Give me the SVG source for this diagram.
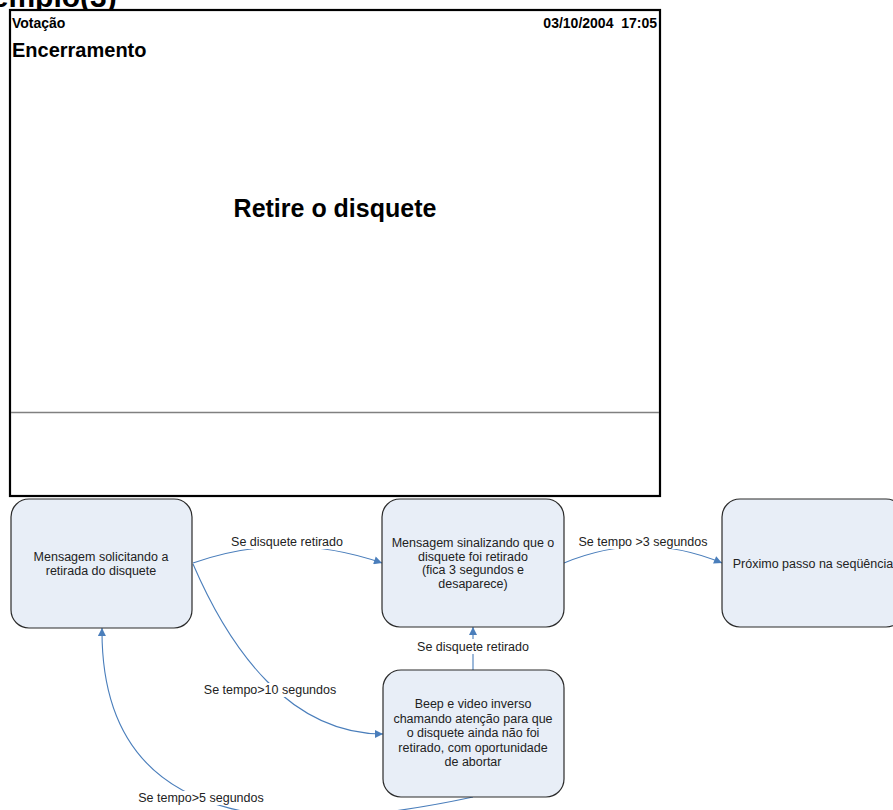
<svg xmlns="http://www.w3.org/2000/svg" width="893" height="810" viewBox="0 0 893 810">
<defs>
<style>
.hdr{font-family:"Liberation Sans",Arial,sans-serif;font-weight:bold;fill:#000}
.nt{font-family:"Liberation Sans",Arial,sans-serif;font-size:12.5px;fill:#222;text-anchor:middle}
.node{fill:#E8EEF7;stroke:#2b2b2b;stroke-width:1.2}
.conn{fill:none;stroke:#4A7EBB;stroke-width:1.1;marker-end:url(#arr)}
.lblbg{fill:#fff}
</style>
<marker id="arr" viewBox="0 0 10 10" refX="10" refY="5" markerUnits="userSpaceOnUse" markerWidth="9" markerHeight="8" orient="auto">
<path d="M0,0 L10,5 L0,10 z" fill="#4A7EBB"/>
</marker>
</defs>
<rect width="893" height="810" fill="#fff"/>
<text class="hdr" x="-45" y="7" font-size="30">Exemplo(3)</text>
<g id="screen">
<rect x="10" y="10" width="650" height="486" fill="#fff" stroke="#000" stroke-width="2.2"/>
<line x1="11" y1="412.5" x2="659" y2="412.5" stroke="#808080" stroke-width="1.5"/>
<text class="hdr" x="12" y="28" font-size="14">Votação</text>
<text class="hdr" x="657" y="28" font-size="14" text-anchor="end" xml:space="preserve">03/10/2004  17:05</text>
<text class="hdr" x="12" y="57" font-size="20">Encerramento</text>
<text class="hdr" x="335" y="217" font-size="25" text-anchor="middle">Retire o disquete</text>
</g>
<g id="connectors">
<path class="conn" d="M193,563 Q287,530 382,563"/>
<rect class="lblbg" x="228" y="534" width="118" height="15"/>
<text class="nt" x="287" y="546">Se disquete retirado</text>
<path class="conn" d="M564,563 Q643,530 722,563"/>
<rect class="lblbg" x="576" y="534" width="134" height="15"/>
<text class="nt" x="643" y="546">Se tempo &gt;3 segundos</text>
<path class="conn" d="M473,670 L473,627"/>
<rect class="lblbg" x="414" y="639" width="118" height="15"/>
<text class="nt" x="473" y="651">Se disquete retirado</text>
<path class="conn" d="M193,564 C230,650 290,734 383,734"/>
<rect class="lblbg" x="201" y="683" width="138" height="14"/>
<text class="nt" x="270" y="694">Se tempo&gt;10 segundos</text>
<path class="conn" d="M473,797 C320,830 100,850 102,628"/>
<rect class="lblbg" x="136" y="791" width="131" height="14"/>
<text class="nt" x="201" y="802">Se tempo&gt;5 segundos</text>
</g>
<g id="node-solicitando">
<rect class="node" x="11" y="499" width="181" height="129" rx="18"/>
<text class="nt" x="101" y="560.5">Mensagem solicitando a</text>
<text class="nt" x="101" y="574.5">retirada do disquete</text>
</g>
<g id="node-sinalizando">
<rect class="node" x="382" y="499" width="182" height="128" rx="18"/>
<text class="nt" x="473" y="547">Mensagem sinalizando que o</text>
<text class="nt" x="473" y="560.5">disquete foi retirado</text>
<text class="nt" x="473" y="574">(fica 3 segundos e</text>
<text class="nt" x="473" y="587.5">desaparece)</text>
</g>
<g id="node-proximo">
<rect class="node" x="722" y="499" width="182" height="128" rx="18"/>
<text class="nt" x="813" y="568">Próximo passo na seqüência</text>
</g>
<g id="node-beep">
<rect class="node" x="383" y="670" width="181" height="127" rx="18"/>
<text class="nt" x="473" y="708">Beep e video inverso</text>
<text class="nt" x="473" y="722.5">chamando atenção para que</text>
<text class="nt" x="473" y="737">o disquete ainda não foi</text>
<text class="nt" x="473" y="751.5">retirado, com oportunidade</text>
<text class="nt" x="473" y="766">de abortar</text>
</g>
</svg>
